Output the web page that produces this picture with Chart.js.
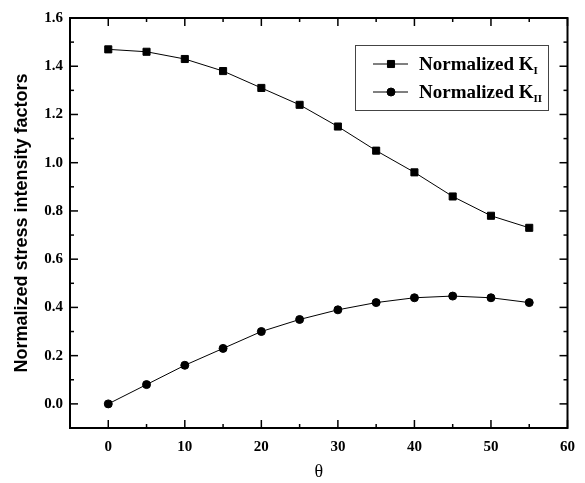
<!DOCTYPE html>
<html>
<head>
<meta charset="utf-8">
<script src="https://cdn.jsdelivr.net/npm/chart.js@4.4.1/dist/chart.umd.min.js"></script>
<style>
html, body { margin: 0; padding: 0; background: #fff; }
#wrap { width: 585px; height: 483px; }
</style>
</head>
<body>
<div id="wrap"><canvas id="grafica"></canvas></div>
<script>
// данные с картинки
const thetaValues = [0, 5, 10, 15, 20, 25, 30, 35, 40, 45, 50, 55];
const kOne = [1.47, 1.46, 1.43, 1.38, 1.31, 1.24, 1.15, 1.05, 0.96, 0.86, 0.78, 0.73];
const kTwo = [0.0, 0.08, 0.16, 0.23, 0.30, 0.35, 0.39, 0.42, 0.44, 0.447, 0.44, 0.42];

// подписи осей
const xTickValues = [0, 10, 20, 30, 40, 50, 60];
const yTickValues = [0.0, 0.2, 0.4, 0.6, 0.8, 1.0, 1.2, 1.4, 1.6];
const legendNames = ['Normalized K', 'Normalized K'];
const legendSubs = ['I', 'II'];

const serif = '"Liberation Serif", "Times New Roman", serif';

// рамка и засечки внутрь, как в Origin
const framePlugin = {
    id: 'frame',
    afterDraw(chart) {
        const ctx = chart.ctx;
        const a = chart.chartArea;
        const xs = chart.scales.x;
        const ys = chart.scales.y;
        ctx.save();
        ctx.strokeStyle = '#000';
        ctx.lineWidth = 2;
        ctx.strokeRect(a.left, a.top, a.right - a.left, a.bottom - a.top);

        ctx.lineWidth = 1.5;
        function tick(x1, y1, x2, y2) {
            ctx.beginPath();
            ctx.moveTo(x1, y1);
            ctx.lineTo(x2, y2);
            ctx.stroke();
        }
        // x
        for (let i = 0; i < xTickValues.length; i++) {
            let px = xs.getPixelForValue(xTickValues[i]);
            tick(px, a.bottom, px, a.bottom - 8);
            tick(px, a.top, px, a.top + 8);
            if (i > 0) {
                let mx = xs.getPixelForValue((xTickValues[i] + xTickValues[i - 1]) / 2);
                tick(mx, a.bottom, mx, a.bottom - 4);
                tick(mx, a.top, mx, a.top + 4);
            }
        }
        // y
        for (let i = 0; i < yTickValues.length; i++) {
            let py = ys.getPixelForValue(yTickValues[i]);
            tick(a.left, py, a.left + 8, py);
            tick(a.right, py, a.right - 8, py);
            if (i > 0) {
                let my = ys.getPixelForValue((yTickValues[i] + yTickValues[i - 1]) / 2);
                tick(a.left, my, a.left + 4, my);
                tick(a.right, my, a.right - 4, my);
            }
        }

        // легенда с индексами
        const bx = 355, by = 45, bw = 193, bh = 65;
        ctx.fillStyle = '#fff';
        ctx.fillRect(bx, by, bw, bh);
        ctx.lineWidth = 1;
        ctx.strokeStyle = '#444';
        ctx.strokeRect(bx + 0.5, by + 0.5, bw, bh);

        chart.data.datasets.forEach(function (ds, i) {
            let cy = 64 + i * 28;
            ctx.strokeStyle = '#000';
            ctx.lineWidth = 1;
            tick(373, cy, 408, cy);
            ctx.fillStyle = '#000';
            Chart.helpers.drawPoint(ctx, {
                pointStyle: ds.pointStyle,
                radius: ds.pointRadius,
                borderWidth: 1
            }, 391, cy);
            ctx.fillStyle = '#000';
            ctx.textBaseline = 'alphabetic';
            ctx.textAlign = 'left';
            ctx.font = 'bold 19px ' + serif;
            ctx.fillText(legendNames[i], 419, cy + 6);
            let w = ctx.measureText(legendNames[i]).width;
            ctx.font = 'bold 11px ' + serif;
            ctx.fillText(legendSubs[i], 419 + w, cy + 10);
        });
        ctx.restore();
    }
};

const grafica = document.getElementById('grafica');

let myChart = new Chart(grafica, {
    type: 'line',
    data: {
        datasets: [{
            label: 'Normalized K_I',
            data: thetaValues.map((t, i) => ({ x: t, y: kOne[i] })),
            borderColor: '#000',
            backgroundColor: '#000',
            borderWidth: 1,
            pointStyle: 'rect',
            pointRadius: 5,
            pointBorderWidth: 1,
            tension: 0
        }, {
            label: 'Normalized K_II',
            data: thetaValues.map((t, i) => ({ x: t, y: kTwo[i] })),
            borderColor: '#000',
            backgroundColor: '#000',
            borderWidth: 1,
            pointStyle: 'circle',
            pointRadius: 4,
            pointBorderWidth: 1,
            tension: 0
        }]
    },
    options: {
        responsive: true,
        maintainAspectRatio: false,
        animation: false,
        layout: {
            padding: { left: 0, right: 8, top: 18, bottom: 0 }
        },
        scales: {
            x: {
                type: 'linear',
                min: -5,
                max: 60,
                afterBuildTicks: function (scale) {
                    scale.ticks = xTickValues.map(v => ({ value: v }));
                },
                afterFit: function (scale) {
                    scale.height = 55;
                },
                grid: { display: false, drawTicks: false },
                border: { display: false },
                ticks: {
                    padding: 10,
                    color: '#000',
                    font: { family: serif, size: 15, weight: 'bold' },
                    maxRotation: 0
                },
                title: {
                    display: true,
                    text: 'θ',
                    color: '#000',
                    padding: 0,
                    font: { family: serif, size: 18 }
                }
            },
            y: {
                min: -0.1,
                max: 1.6,
                afterBuildTicks: function (scale) {
                    scale.ticks = yTickValues.map(v => ({ value: v }));
                },
                afterFit: function (scale) {
                    scale.width = 70;
                },
                grid: { display: false, drawTicks: false },
                border: { display: false },
                ticks: {
                    padding: 7,
                    color: '#000',
                    font: { family: serif, size: 15, weight: 'bold' },
                    callback: function (v) { return Number(v).toFixed(1); }
                },
                title: {
                    display: true,
                    text: 'Normalized stress intensity factors',
                    color: '#000',
                    padding: { top: 11, bottom: 0 },
                    font: { family: '"Liberation Sans Narrow", "Arial Narrow", "Liberation Sans", Arial, sans-serif', size: 18, weight: 'bold' }
                }
            }
        },
        plugins: {
            legend: { display: false },
            tooltip: { enabled: false }
        }
    },
    plugins: [framePlugin]
});
</script>
</body>
</html>
